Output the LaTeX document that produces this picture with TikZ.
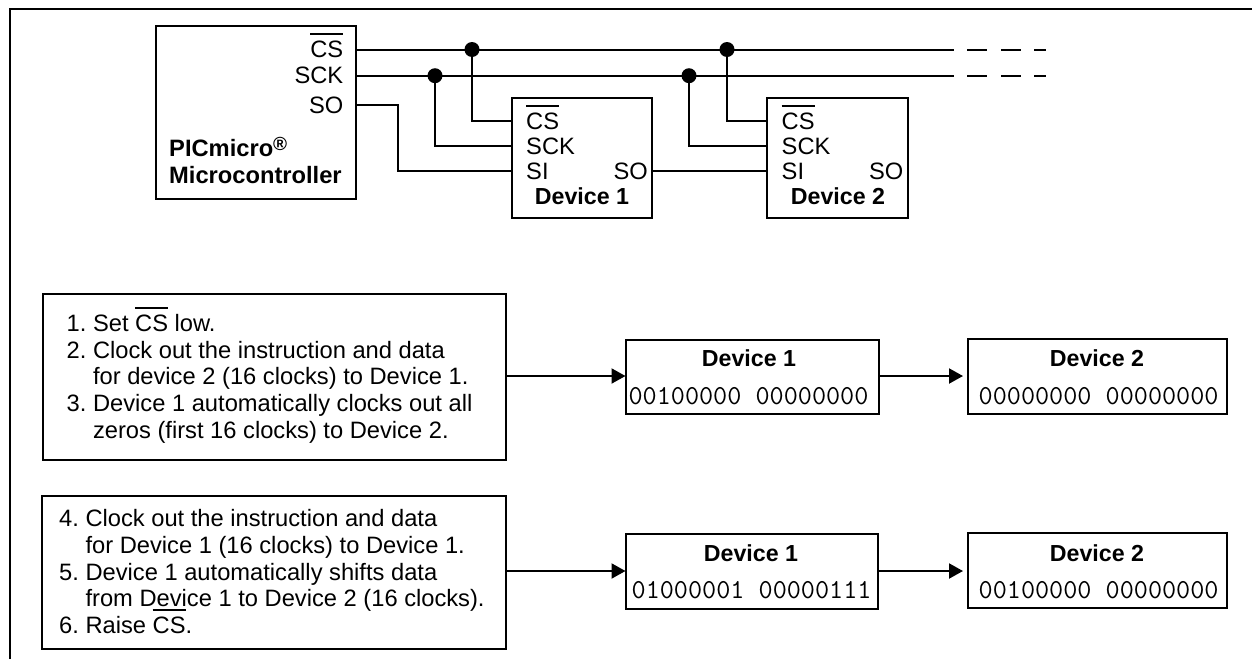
\documentclass[tikz,border=0pt]{standalone}
\usepackage{fontspec}
\setmainfont{Liberation Sans}
\usetikzlibrary{arrows.meta}
\frenchspacing
\newcommand{\csbar}{\mbox{\setbox0\hbox{CS}\rlap{\smash{\rule[0.94em]{\wd0}{1.6pt}}}\box0}}
\newcommand{\regmark}{\raisebox{6pt}{\fontsize{19}{19}\selectfont\bfseries®}}
\newcommand{\hng}{\hspace*{1.112em}}
\tikzset{
  x=1pt,y=-1pt,
  wire/.style={line width=2pt,line join=miter},
  boxn/.style={draw,line width=2pt,inner sep=0pt,anchor=north west,outer sep=0pt},
  lbl/.style={inner sep=0pt,font=\fontsize{23.7}{27}\selectfont},
  lblw/.style={lbl,anchor=base west},
  lble/.style={lbl,anchor=base east},
  title/.style={inner sep=0pt,anchor=base,font=\fontsize{23.2}{27}\selectfont\bfseries},
  bits/.style={inner sep=0pt,anchor=base,font=\fontsize{27.4}{27}\selectfont\ttfamily},
  stepl/.style={inner sep=0pt,anchor=north west,align=left,font=\fontsize{23.7}{26.8}\selectfont},
  arr/.style={wire,-{Triangle[length=14pt,width=15pt]}},
  dotn/.style={circle,fill=black,draw=none,inner sep=0pt,minimum size=15pt}
}
\begin{document}
\begin{tikzpicture}
\useasboundingbox (0,0) rectangle (1252,659);
% frame
\coordinate (fa) at (9.5,659);
\coordinate (fb) at (9.5,9);
\coordinate (fc) at (1252,9);
\draw[wire] (fa) -- (fb) -- (fc);
% top boxes
\node[boxn,minimum width=200pt,minimum height=173.5pt] (pic) at (156,25.5) {};
\node[boxn,minimum width=140pt,minimum height=120pt] (d1) at (512,98) {};
\node[boxn,minimum width=141pt,minimum height=120pt] (d2) at (767,98) {};
% pic labels
\node[lble] (piccs) at (343.5,57.3) {\csbar};
\node[lble] (picsck) at (343.5,83.3) {SCK};
\node[lble] (picso) at (343.5,113.3) {SO};
\node[lblw,font=\fontsize{23.7}{27}\selectfont\bfseries] (picname) at (169,156) {PICmicro\regmark};
\node[lblw,font=\fontsize{23.7}{27}\selectfont\bfseries] (picname2) at (169,183) {Microcontroller};
% device labels
\node[lblw] (acs) at (526,129) {\csbar};
\node[lblw] (asck) at (526,154) {SCK};
\node[lblw] (asi) at (526,179) {SI};
\node[lble] (aso) at (648,179) {SO};
\node[title] (atitle) at (582,204) {Device 1};
\node[lblw] (bcs) at (781.5,129) {\csbar};
\node[lblw] (bsck) at (781.5,154) {SCK};
\node[lblw] (bsi) at (781.5,179) {SI};
\node[lble] (bso) at (903.5,179) {SO};
\node[title] (btitle) at (838,204) {Device 2};
% bus coordinates
\coordinate (csend) at (954,49.5);
\coordinate (sckend) at (954,75.7);
\coordinate (csg) at (967.3,49.5);
\coordinate (sckg) at (967.3,75.7);
\coordinate (csh) at (1046,49.5);
\coordinate (sckh) at (1046,75.7);
\node[dotn] (j1) at (472,49.5) {};
\node[dotn] (j2) at (435,75.7) {};
\node[dotn] (j3) at (727,49.5) {};
\node[dotn] (j4) at (689,75.7) {};
\draw[wire] (pic.east |- j1) -- (csend);
\draw[wire] (pic.east |- j2) -- (sckend);
\draw[wire,dash pattern=on 20pt off 14pt on 19.2pt off 13.5pt on 12pt] (csg) -- (csh);
\draw[wire,dash pattern=on 20pt off 14pt on 19.2pt off 13.5pt on 12pt] (sckg) -- (sckh);
\coordinate (a1) at (512,121);
\coordinate (a2) at (512,146);
\coordinate (a3) at (512,171);
\coordinate (b1) at (767,121);
\coordinate (b2) at (767,146);
\coordinate (b3) at (767,171);
\coordinate (so0) at (356,104.5);
\coordinate (jog) at (398,104.5);
\coordinate (o1) at (652,171);
\draw[wire] (j1) |- (a1);
\draw[wire] (j2) |- (a2);
\draw[wire] (j3) |- (b1);
\draw[wire] (j4) |- (b2);
\draw[wire] (so0) -- (jog) |- (a3);
\draw[wire] (o1) -- (b3);
% step boxes
\node[boxn,minimum width=463pt,minimum height=166pt] (s1) at (43,294) {};
\node[boxn,minimum width=464.5pt,minimum height=153pt] (s2) at (41.5,496) {};
\node[stepl] (t1) at (66.5,313) {\rule{0pt}{18pt}1. Set \csbar{} low.\\
2. Clock out the instruction and data\\
\hng for device 2 (16 clocks) to Device 1.\\
3. Device 1 automatically clocks out all\\
\hng zeros (first 16 clocks) to Device 2.};
\node[stepl,font=\fontsize{23.7}{26.6}\selectfont] (t2) at (59,508.7) {\rule{0pt}{18pt}4. Clock out the instruction and data\\
\hng for Device 1 (16 clocks) to Device 1.\\
5. Device 1 automatically shifts data\\
\hng from Device 1 to Device 2 (16 clocks).\\
6. Raise \csbar.};
% register boxes row 1
\node[boxn,minimum width=253.5pt,minimum height=74pt] (r1) at (625.5,340) {};
\node[boxn,minimum width=258.5pt,minimum height=75pt] (r2) at (968,339) {};
\node[title] (r1t) at (749,366.7) {Device 1};
\node[bits] (r1b) at (748.5,404) {00100000 00000000};
\node[title] (r2t) at (1097,366.7) {Device 2};
\node[bits] (r2b) at (1098.6,404) {00000000 00000000};
% register boxes row 2
\node[boxn,minimum width=252.5pt,minimum height=74.5pt] (r3) at (625.5,534) {};
\node[boxn,minimum width=258.5pt,minimum height=75pt] (r4) at (968,533) {};
\node[title] (r3t) at (751,561.7) {Device 1};
\node[bits] (r3b) at (751.6,598) {01000001 00000111};
\node[title] (r4t) at (1097,561.7) {Device 2};
\node[bits] (r4b) at (1098.6,598) {00100000 00000000};
% arrows
\coordinate (q1) at (506,376);
\coordinate (q2) at (625.5,376);
\coordinate (q3) at (879,376);
\coordinate (q4) at (963,376);
\coordinate (q5) at (506,571);
\coordinate (q6) at (625.5,571);
\coordinate (q7) at (878,571);
\coordinate (q8) at (963,571);
\draw[arr] (q1) -- (q2);
\draw[arr] (q3) -- (q4);
\draw[arr] (q5) -- (q6);
\draw[arr] (q7) -- (q8);
\end{tikzpicture}
\end{document}
